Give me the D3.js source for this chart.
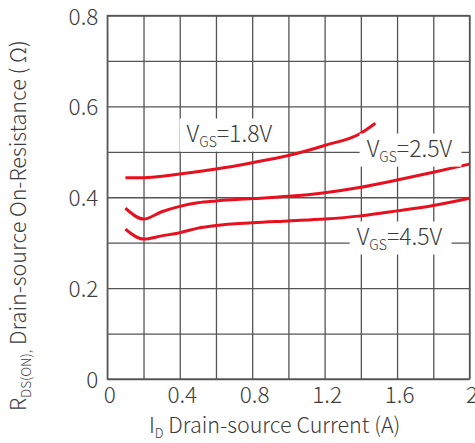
<!DOCTYPE html>
<html><head><meta charset="utf-8">
<script src="https://cdn.jsdelivr.net/npm/d3@7"></script>
<style>
body{margin:0;background:#fff;}
svg text{font-family:"Noto Sans CJK SC","Noto Sans",sans-serif;fill:#3c3c3c;}
</style></head><body>
<svg id="c" width="475" height="443"></svg>
<script>
// ---- data ----
const xTicks = [0, 0.4, 0.8, 1.2, 1.6, 2];
const yTicks = [0, 0.2, 0.4, 0.6, 0.8];
const id18 = [0.1, 0.2, 0.4, 0.6, 0.8, 1.0, 1.2, 1.4, 1.48];
const r18  = [0.443, 0.443, 0.451, 0.462, 0.476, 0.492, 0.514, 0.541, 0.563];
const id25 = [0.1, 0.2, 0.3, 0.4, 0.5, 0.6, 0.8, 1.0, 1.2, 1.4, 1.6, 1.8, 2.0];
const r25  = [0.376, 0.352, 0.368, 0.380, 0.388, 0.392, 0.397, 0.402, 0.410, 0.422, 0.438, 0.455, 0.473];
const id45 = [0.1, 0.2, 0.3, 0.4, 0.5, 0.6, 0.8, 1.0, 1.2, 1.4, 1.6, 1.8, 2.0];
const r45  = [0.330, 0.308, 0.315, 0.322, 0.332, 0.338, 0.344, 0.348, 0.352, 0.359, 0.370, 0.382, 0.398];
const labels = [
  {v: "1.8V", x: 0.438, y: 0.5226},
  {v: "2.5V", x: 1.432, y: 0.4895},
  {v: "4.5V", x: 1.377, y: 0.2960}
];

const svg = d3.select("#c");
const L = 107.3, R = 469.5, T = 15.5, B = 379;
const x = d3.scaleLinear().domain([0, 2]).range([L, R]);
const y = d3.scaleLinear().domain([0, 0.8]).range([B, T]);
const gridCol = "#555";

// grid via axes
const gx = svg.append("g").attr("transform", `translate(0,${B})`)
  .call(d3.axisBottom(x).tickValues(d3.range(0, 2.001, 0.2)).tickSize(-(B - T)).tickFormat(""));
const gy = svg.append("g").attr("transform", `translate(${L},0)`)
  .call(d3.axisLeft(y).tickValues(d3.range(0, 0.8001, 0.1)).tickSize(-(R - L)).tickFormat(""));
[gx, gy].forEach(g => {
  g.select(".domain").remove();
  g.selectAll("line").attr("stroke", gridCol).attr("stroke-width", 1.3);
});
svg.append("rect").attr("x", L).attr("y", T).attr("width", R - L).attr("height", B - T)
  .attr("fill", "none").attr("stroke", gridCol).attr("stroke-width", 1.3);

// tick labels
const tx = svg.append("g").attr("transform", `translate(0,${B})`)
  .call(d3.axisBottom(x).tickValues(xTicks).tickSize(0).tickPadding(8).tickFormat(d3.format("")));
const ty = svg.append("g").attr("transform", `translate(${L},0)`)
  .call(d3.axisLeft(y).tickValues(yTicks).tickSize(0).tickPadding(9).tickFormat(d3.format("")));
[tx, ty].forEach(g => {
  g.select(".domain").remove();
  g.selectAll("text").attr("font-size", 22.5).attr("font-weight", 300)
    .attr("font-family", '"Noto Sans CJK SC","Noto Sans",sans-serif').attr("fill", "#3c3c3c");
});
tx.selectAll("text").attr("dx", 2);
ty.selectAll("text").attr("dy", "0.38em");

// curves
const line = d3.line().x(d => x(d[0])).y(d => y(d[1])).curve(d3.curveMonotoneX);
[[id18, r18], [id25, r25], [id45, r45]].forEach(([xs, ys]) => {
  svg.append("path").datum(xs.map((v, i) => [v, ys[i]]))
    .attr("d", line).attr("fill", "none").attr("stroke", "#e8101e")
    .attr("stroke-width", 3).attr("stroke-linecap", "butt");
});

// curve labels with white boxes
labels.forEach(lb => {
  const g = svg.append("g");
  const rect = g.append("rect").attr("fill", "#fff");
  const t = g.append("text").attr("x", x(lb.x)).attr("y", y(lb.y))
    .attr("font-size", 23).attr("font-weight", 300);
  t.append("tspan").text("V");
  t.append("tspan").text("GS").attr("font-size", 14).attr("dy", 5);
  t.append("tspan").text("=" + lb.v).attr("dy", -5);
  const bb = t.node().getBBox();
  const bx = x(lb.x) - 7, by = y(lb.y) - 23;
  rect.attr("x", bx).attr("y", by).attr("width", bb.x + bb.width + 9 - bx).attr("height", 33);
});

// x axis title
const xt = svg.append("text").attr("x", 149).attr("y", 433).attr("font-size", 21.5).attr("font-weight", 300);
xt.append("tspan").text("I");
xt.append("tspan").text("D").attr("font-size", 13).attr("dy", 5);
xt.append("tspan").text(" Drain-source Current (A)").attr("dy", -5);

// y axis title
const yt = svg.append("text").attr("transform", "translate(26,411) rotate(-90)")
  .attr("font-size", 21.5).attr("font-weight", 300);
yt.append("tspan").text("R");
yt.append("tspan").text("DS(ON),").attr("font-size", 13.5).attr("dy", 5);
yt.append("tspan").text(" Drain-source On-Resistance ( Ω)").attr("dy", -5);
</script>
</body></html>
